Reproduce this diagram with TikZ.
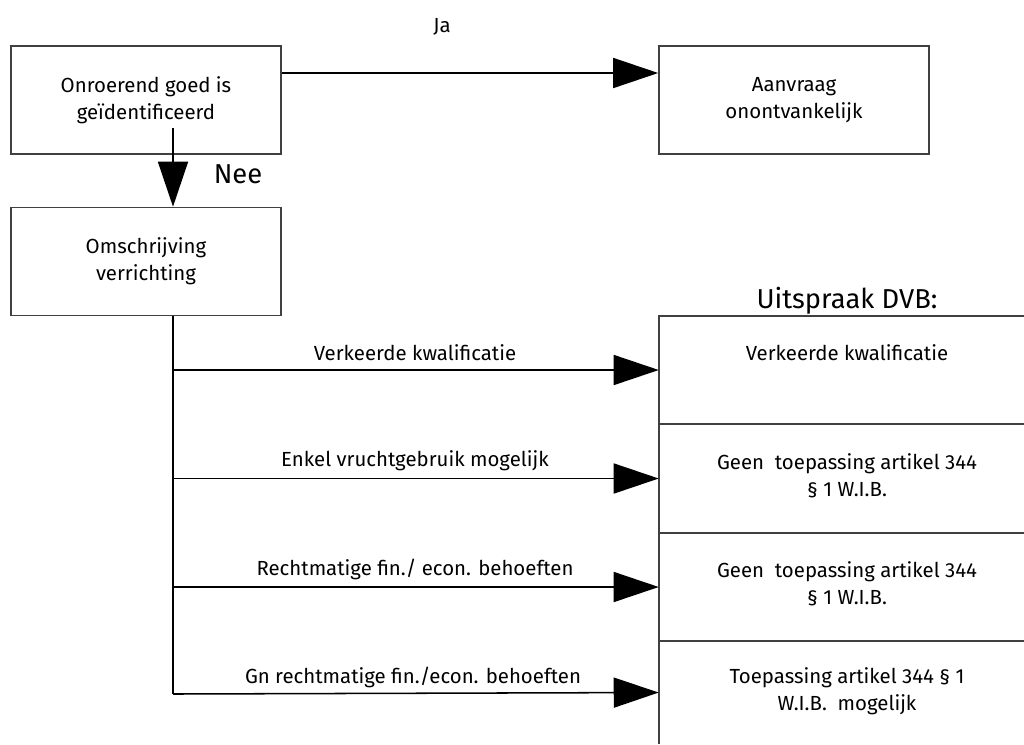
\documentclass[tikz,border=0pt]{standalone}
\usepackage{fontspec}
\setmainfont{Fira Sans}[UprightFont={* Regular}]
\usetikzlibrary{arrows.meta}
\newcommand\txtfont{\fontsize{15.3}{20.25}\selectfont}
\newcommand\bigtxtfont{\fontsize{20.5}{24}\selectfont}
\begin{document}
\begin{tikzpicture}[x=0.75pt,y=-0.75pt,
  box/.style={draw=black!75,line width=1.2pt,minimum width=202.5pt,minimum height=81pt,inner sep=0pt,align=center,font=\txtfont},
  cell/.style={minimum width=273.75pt,minimum height=81pt,inner sep=0pt},
  lbl/.style={inner sep=0pt,align=center,font=\txtfont},
  biglbl/.style={inner sep=0pt,font=\bigtxtfont},
  border/.style={draw=black!75,line width=1.2pt},
  conn/.style={draw=black,line width=1.15pt},
  arr/.style={conn,-{Triangle[length=33.75pt,width=22.5pt]}}]
\useasboundingbox (0,0) rectangle (1024,744);
% boxes
\node[box] (b1) at (146,100) {Onroerend goed is\\geïdentificeerd};
\node[box] (b2) at (794,100) {Aanvraag\\onontvankelijk};
\node[box] (b3) at (146,261.5) {Omschrijving\\verrichting};
% labels
\node[lbl] (ja) at (442,27) {Ja};
\node[biglbl] (nee) at (238,174) {Nee};
\node[biglbl] (dvb) at (847,301) {Uitspraak DVB:};
% result cells
\node[cell] (c1) at (841.5,370) {};
\node[cell] (c2) at (841.5,478.5) {};
\node[cell] (c3) at (841.5,587) {};
\node[cell,minimum height=77.25pt] (c4) at (841.5,692.5) {};
\node[lbl] (t1) at (847,353) {Verkeerde kwalificatie};
\node[lbl] (t2) at (847,475.5) {Geen\ \ toepassing artikel 344\\§ 1 W.I.B.};
\node[lbl] (t3) at (847,584) {Geen\ \ toepassing artikel 344\\§ 1 W.I.B.};
\node[lbl] (t4) at (847,691) {Toepassing artikel 344 § 1\\W.I.B.\ \ mogelijk};
\draw[border] (c1.north east) -- (c1.north west) -- (c4.south west);
\draw[border] (c2.north west) -- (c2.north east);
\draw[border] (c3.north west) -- (c3.north east);
\draw[border] (c4.north west) -- (c4.north east);
% branch labels
\node[lbl] (l1) at (415,353) {Verkeerde kwalificatie};
\node[lbl] (l2) at (415,461) {Enkel vruchtgebruik mogelijk};
\node[lbl] (l3) at (415,569) {Rechtmatige fin./ econ. behoeften};
\node[lbl] (l4) at (413,677) {Gn rechtmatige fin./econ. behoeften};
% connectors
\coordinate (jy) at (0,73);
\coordinate (dstart) at (173,128);
\coordinate (tbot) at (173,694);
\draw[arr] (b1.east |- jy) -- (b2.west |- jy);
\draw[arr] (dstart) -- (b1.south -| dstart) -- (b3.north -| dstart);
\draw[conn] (b3.south -| tbot) -- (tbot);
\draw[arr] (tbot |- c1.west) -- (c1.west);
\draw[arr] (tbot |- c2.west) -- (c2.west);
\draw[arr] (tbot |- c3.west) -- (c3.west);
\draw[arr] (tbot) -- (c4.west);
\end{tikzpicture}
\end{document}
